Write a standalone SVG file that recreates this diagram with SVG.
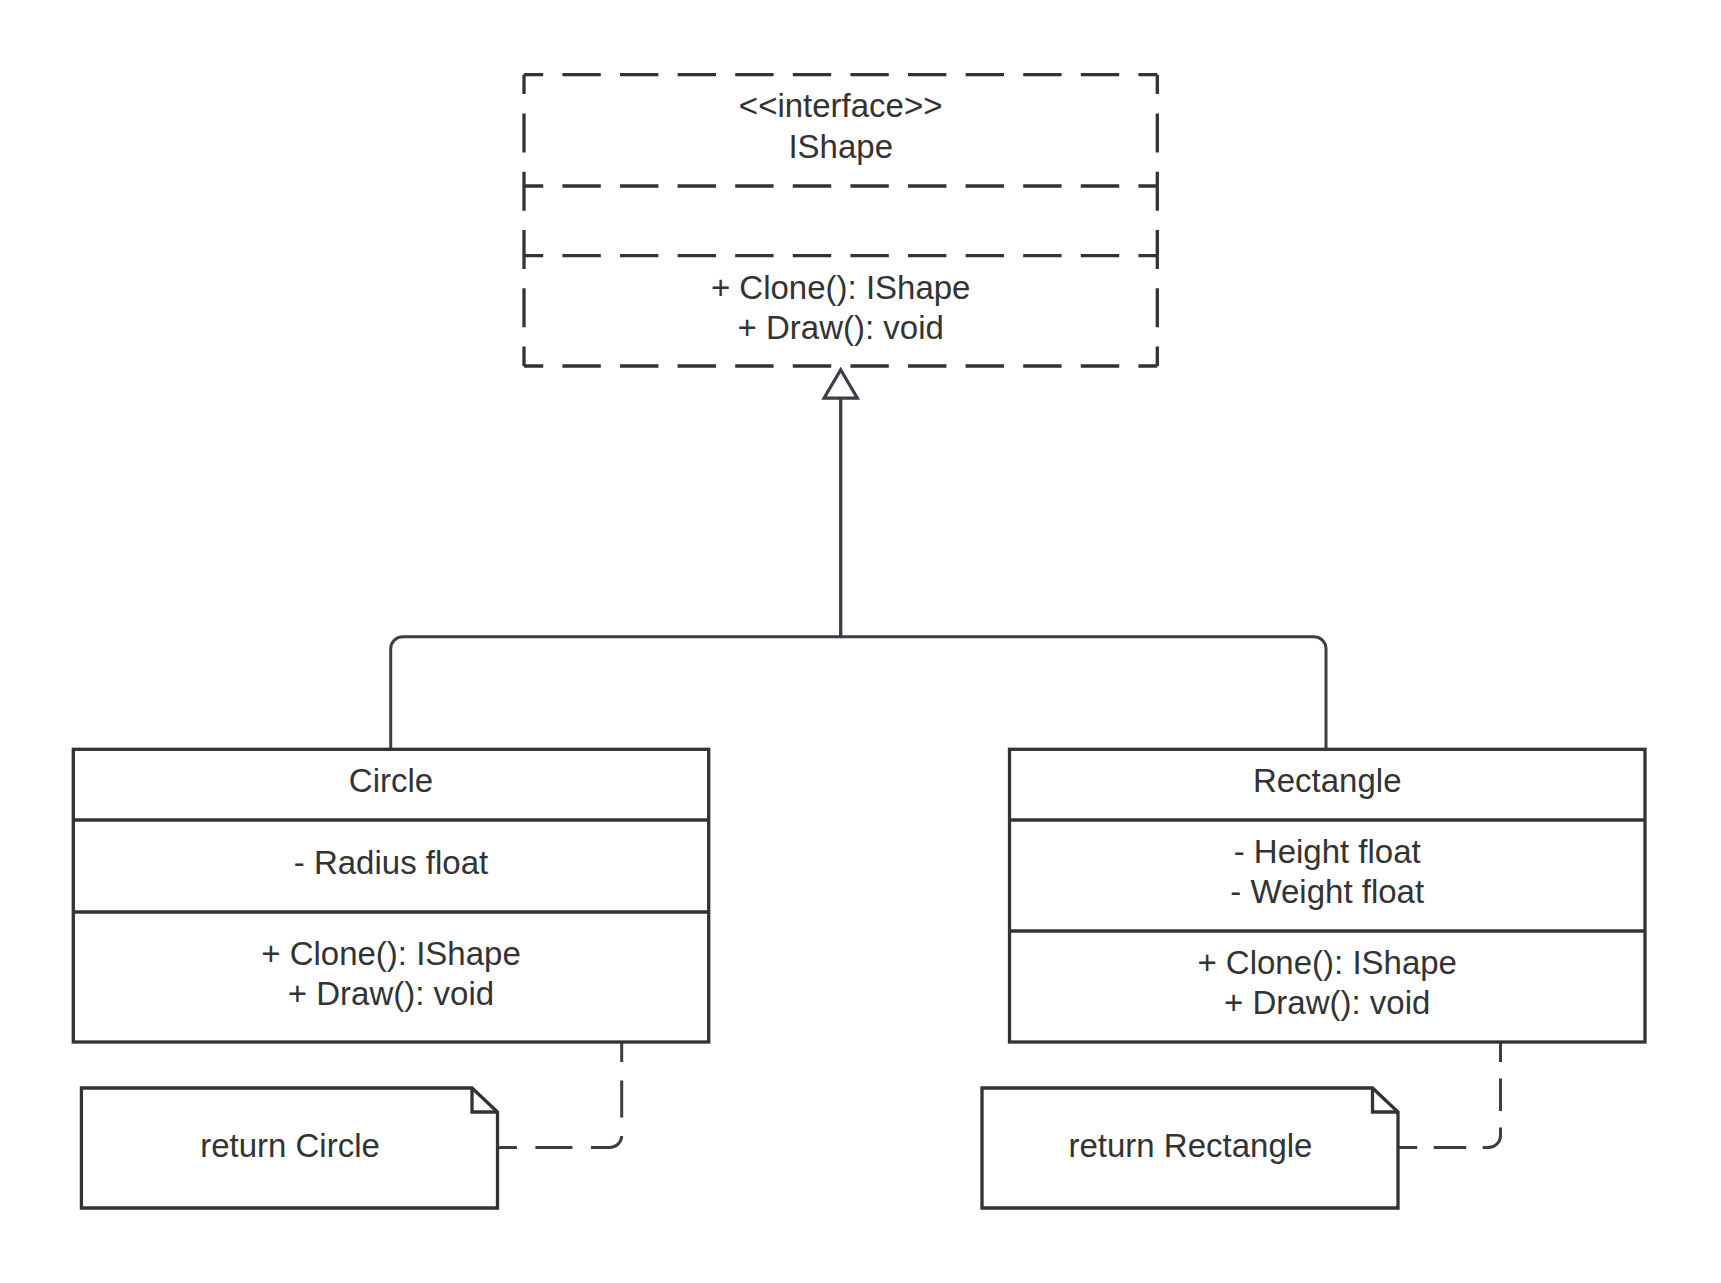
<svg xmlns="http://www.w3.org/2000/svg" width="1721" height="1283" viewBox="0 0 1721 1283">
<style>
.t{font-family:"Liberation Sans",Arial,sans-serif;font-size:33px;fill:#333333;text-anchor:middle}
.box{fill:#ffffff;stroke:#333333;stroke-width:3.3}
.ln{fill:none;stroke:#333333;stroke-width:3.3}
.dh{fill:none;stroke:#333333;stroke-width:3.3;stroke-dasharray:38.4 19.2;stroke-dashoffset:19.2}
.dv{fill:none;stroke:#333333;stroke-width:3.3;stroke-dasharray:38.84 19.42;stroke-dashoffset:19.42}
.conn{fill:none;stroke:#3a3f47;stroke-width:3;stroke-linejoin:round}
.dconn{fill:none;stroke:#3a3f47;stroke-width:3}
</style>
<defs>
<marker id="tri" markerUnits="userSpaceOnUse" markerWidth="32" markerHeight="38" refX="28" refY="0" orient="auto" overflow="visible">
<path d="M0,-16.5 L28,0 L0,16.5 Z" fill="#ffffff" stroke="#3a3f47" stroke-width="3" stroke-linejoin="miter"/>
</marker>
</defs>
<rect width="1721" height="1283" fill="#ffffff"/>

<g id="connectors">
<path class="conn" d="M390.7,749.3 V648.7 A12,12 0 0 1 402.7,636.7 H840.7 V370" marker-end="url(#tri)"/>
<path class="conn" d="M1326,749.3 V648.7 A12,12 0 0 0 1314,636.7 H840.7 V370" marker-end="url(#tri)"/>
<path class="dconn" stroke-dasharray="37 18.5" stroke-dashoffset="18" d="M621.7,1043 V1135.5 A12,12 0 0 1 609.7,1147.5 H497.5"/>
<path class="dconn" stroke-dasharray="32.5 16.5" stroke-dashoffset="13.5" d="M1500.5,1043 V1135.5 A12,12 0 0 1 1488.5,1147.5 H1398"/>
</g>

<g id="ishape">
<rect x="524" y="74.7" width="633.3" height="291.3" fill="#ffffff"/>
<line class="dh" x1="524" y1="74.7" x2="1157.3" y2="74.7"/>
<line class="dh" x1="524" y1="186" x2="1157.3" y2="186"/>
<line class="dh" x1="524" y1="255.7" x2="1157.3" y2="255.7"/>
<line class="dh" x1="524" y1="366" x2="1157.3" y2="366"/>
<line class="dv" x1="524" y1="74.7" x2="524" y2="366"/>
<line class="dv" x1="1157.3" y1="74.7" x2="1157.3" y2="366"/>
<text class="t" x="840.7" y="117">&lt;&lt;interface&gt;&gt;</text>
<text class="t" x="840.7" y="157.5">IShape</text>
<text class="t" x="840.7" y="298.5">+ Clone(): IShape</text>
<text class="t" x="840.7" y="338.5">+ Draw(): void</text>
</g>

<g id="circle">
<rect class="box" x="73.3" y="749.3" width="635.4" height="292.7"/>
<line class="ln" x1="73.3" y1="820" x2="708.7" y2="820"/>
<line class="ln" x1="73.3" y1="912" x2="708.7" y2="912"/>
<text class="t" x="391" y="792.2">Circle</text>
<text class="t" x="391" y="873.5">- Radius float</text>
<text class="t" x="391" y="964.5">+ Clone(): IShape</text>
<text class="t" x="391" y="1004.5">+ Draw(): void</text>
</g>

<g id="rectangle">
<rect class="box" x="1009.5" y="749.3" width="635.5" height="292.7"/>
<line class="ln" x1="1009.5" y1="820" x2="1645" y2="820"/>
<line class="ln" x1="1009.5" y1="931" x2="1645" y2="931"/>
<text class="t" x="1327.2" y="792.2">Rectangle</text>
<text class="t" x="1327.2" y="863">- Height float</text>
<text class="t" x="1327.2" y="903">- Weight float</text>
<text class="t" x="1327.2" y="974">+ Clone(): IShape</text>
<text class="t" x="1327.2" y="1014">+ Draw(): void</text>
</g>

<g id="note-circle">
<path class="box" d="M81.4,1088 H472 L497.5,1112 V1208 H81.4 Z"/>
<path class="ln" d="M472,1088 V1112 H497.5"/>
<text class="t" x="290" y="1157">return Circle</text>
</g>

<g id="note-rectangle">
<path class="box" d="M982,1088 H1372.5 L1398,1112 V1208 H982 Z"/>
<path class="ln" d="M1372.5,1088 V1112 H1398"/>
<text class="t" x="1190.5" y="1157">return Rectangle</text>
</g>
</svg>
